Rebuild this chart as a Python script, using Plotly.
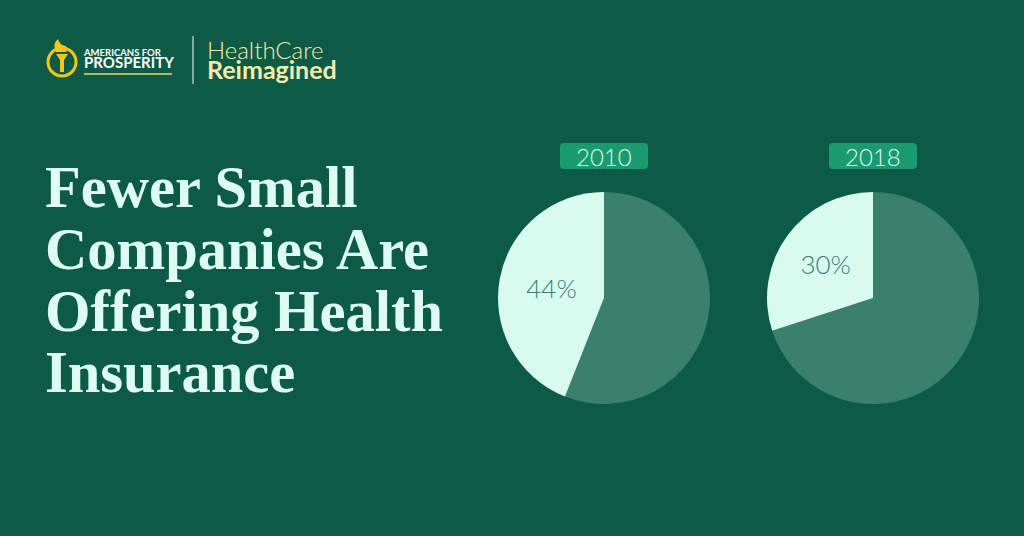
import plotly.graph_objects as go

# ---- data ----
years = ["2010", "2018"]
offering_pct = [44, 30]          # share of small companies offering health insurance
not_offering_pct = [56, 70]
slice_names = ["Not offering", "Offering"]

title_lines = ["Fewer Small", "Companies Are", "Offering Health", "Insurance"]

W, H = 1024, 536
BG = "#0D5B47"
LIGHT = "#D7FCEF"
DARK = "#3A806D"
BOX = "#1A9A6F"
TXT = "#DDFDF2"
YEL = "#F3C61C"
CREAM = "#F5EBA6"

def px(x):
    return x / W

def py(y):
    return 1 - y / H

fig = go.Figure()

centers = [604, 873]
R = 106
cy = 298
for i, yr in enumerate(years):
    cx = centers[i]
    fig.add_trace(go.Pie(
        labels=slice_names,
        values=[not_offering_pct[i], offering_pct[i]],
        text=["", f"{offering_pct[i]}%"],
        textinfo="text",
        textposition="inside",
        insidetextorientation="horizontal",
        textfont=dict(family="Lato, Open Sans, sans-serif", size=26, color="#3A806D", weight=300),
        marker=dict(colors=[DARK, LIGHT], line=dict(width=0)),
        sort=False,
        direction="clockwise",
        rotation=0,
        domain=dict(x=[px(cx - R), px(cx + R)], y=[py(cy + R), py(cy - R)]),
        showlegend=False,
        hoverinfo="label+value",
        name=yr,
    ))

shapes = []
annotations = []

def rounded_rect(x0, y0, x1, y1, r):
    return (f"M {px(x0 + r)},{py(y0)} L {px(x1 - r)},{py(y0)} "
            f"Q {px(x1)},{py(y0)} {px(x1)},{py(y0 + r)} "
            f"L {px(x1)},{py(y1 - r)} Q {px(x1)},{py(y1)} {px(x1 - r)},{py(y1)} "
            f"L {px(x0 + r)},{py(y1)} Q {px(x0)},{py(y1)} {px(x0)},{py(y1 - r)} "
            f"L {px(x0)},{py(y0 + r)} Q {px(x0)},{py(y0)} {px(x0 + r)},{py(y0)} Z")

for i, yr in enumerate(years):
    cx = centers[i]
    shapes.append(dict(type="path", xref="paper", yref="paper",
                       path=rounded_rect(cx - 44, 143, cx + 44, 169, 4),
                       fillcolor=BOX, line=dict(width=0), layer="below"))
    annotations.append(dict(x=px(cx), y=py(156.5), xref="paper", yref="paper",
                            text=yr, showarrow=False, xanchor="center", yanchor="middle",
                            font=dict(family="Lato, Open Sans, sans-serif", size=24, color=TXT, weight=300)))

# title
baselines = [208, 270, 332, 393]
for line, b in zip(title_lines, baselines):
    annotations.append(dict(x=px(43), y=py(b + 14), xref="paper", yref="paper",
                            text=f"<b>{line}</b>", showarrow=False, xanchor="left", yanchor="bottom",
                            font=dict(family="Liberation Serif, DejaVu Serif, serif", size=58.5, color=TXT)))

# logo
shapes.append(dict(type="circle", xref="paper", yref="paper",
                   x0=px(48), x1=px(76), y0=py(76), y1=py(48),
                   line=dict(color=YEL, width=3), fillcolor="rgba(0,0,0,0)"))
shapes.append(dict(type="path", xref="paper", yref="paper",
                   path=f"M {px(56)},{py(54)} L {px(68)},{py(54)} L {px(64)},{py(60)} L {px(64)},{py(72)} L {px(60)},{py(72)} L {px(60)},{py(60)} Z",
                   fillcolor=YEL, line=dict(width=0)))
shapes.append(dict(type="path", xref="paper", yref="paper",
                   path=f"M {px(56)},{py(52)} Q {px(52)},{py(44)} {px(58)},{py(39)} Q {px(60)},{py(46)} {px(66)},{py(46)} Q {px(68)},{py(50)} {px(66)},{py(52)} Z",
                   fillcolor=YEL, line=dict(width=0)))
shapes.append(dict(type="line", xref="paper", yref="paper",
                   x0=px(84), x1=px(172), y0=py(74), y1=py(74),
                   line=dict(color="#E8D75A", width=1.5)))
shapes.append(dict(type="line", xref="paper", yref="paper",
                   x0=px(193), x1=px(193), y0=py(36), y1=py(84),
                   line=dict(color="#CFE5D8", width=1.2)))
annotations.append(dict(x=px(81), y=py(59), xref="paper", yref="paper",
                        text="<b>AMERICANS FOR</b><br><b><span style='font-size:15px'>PROSPERITY</span></b>",
                        showarrow=False, xanchor="left", yanchor="middle", align="left",
                        font=dict(family="Lato, sans-serif", size=9.5, color="white")))
annotations.append(dict(x=px(205), y=py(60), xref="paper", yref="paper",
                        text="<span style='font-size:24px;font-weight:300'>HealthCare</span><br>"
                             "<b><span style='font-size:25px'>Reimagined</span></b>",
                        showarrow=False, xanchor="left", yanchor="middle", align="left",
                        font=dict(family="Lato, sans-serif", size=15.5, color=CREAM)))

fig.update_layout(
    width=W, height=H,
    margin=dict(l=0, r=0, t=0, b=0),
    paper_bgcolor=BG, plot_bgcolor=BG,
    shapes=shapes, annotations=annotations,
)

fig.write_html("out.html", config={"displayModeBar": False},
               post_script="document.body.style.margin='0';document.body.style.background='#0D5B47';")
